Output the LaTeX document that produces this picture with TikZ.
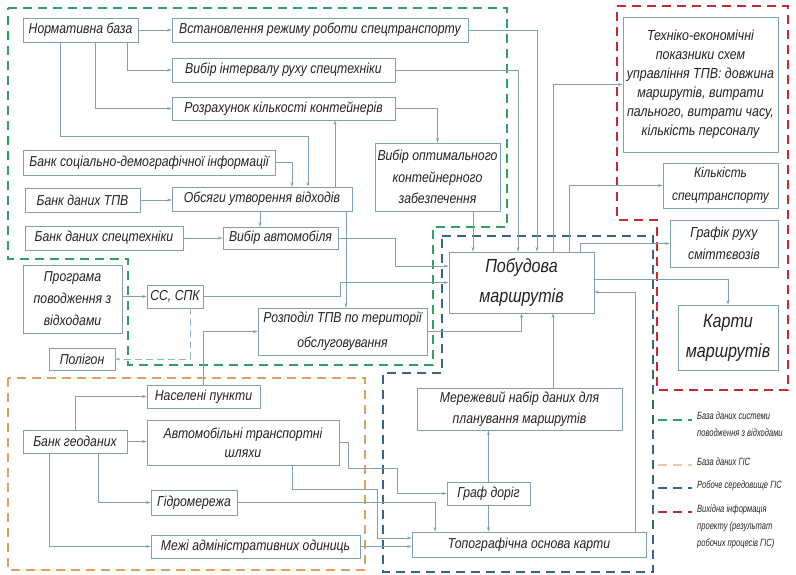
\documentclass[tikz,border=0pt]{standalone}
\usepackage{fontspec}
\setmainfont{Liberation Sans}[FakeStretch=0.85]
\newfontfamily\legfont{Liberation Sans}[FakeStretch=0.72]
\usepackage{tikz}
\usetikzlibrary{arrows.meta}

\definecolor{lineclr}{RGB}{125,160,180}
\definecolor{txtclr}{RGB}{35,35,35}
\definecolor{grn}{RGB}{50,160,100}
\definecolor{orng}{RGB}{225,160,95}
\definecolor{orngleg}{RGB}{235,200,165}
\definecolor{blu}{RGB}{55,100,140}
\definecolor{rd}{RGB}{200,40,50}

\begin{document}
\begin{tikzpicture}[x=1pt, y=-1pt, >={Stealth[length=4.5pt,width=3pt]},
        blok/.style={draw=lineclr, line width=0.7pt, text=txtclr, inner sep=1pt, align=center,
            font=\itshape\fontsize{14.4}{20}\selectfont},
        big/.style={font=\itshape\fontsize{19}{30}\selectfont},
        zv/.style={draw=lineclr, line width=0.6pt, ->},
        zona/.style={line width=1.6pt, dash pattern=on 9pt off 6pt},
        legtxt/.style={text=txtclr, align=left, inner sep=0pt, font=\legfont\itshape\fontsize{10.5}{17}\selectfont}]
        \useasboundingbox (0,0) rectangle (796,574);

        \draw[zona, grn] (8,8) -- (507,8) -- (507,227) -- (433,227) -- (433,365) -- (128,365) -- (128,259) -- (8,259) -- cycle;
        \draw[zona, orng] (8,378) rectangle (365,570);
        \draw[zona, blu] (442,236) -- (653,236) -- (653,572) -- (383,572) -- (383,373) -- (442,373) -- cycle;
        \draw[zona, rd] (617,6) -- (788,6) -- (788,390) -- (657,390) -- (657,220) -- (617,220) -- cycle;

        \node[blok, minimum width=115, minimum height=24] (norm) at (80.5,30) {Нормативна база};
        \node[blok, minimum width=296, minimum height=24] (vstan) at (320,30) {Встановлення режиму роботи спецтранспорту};
        \node[blok, minimum width=223, minimum height=24] (interval) at (283.5,70) {Вибір інтервалу руху спецтехніки};
        \node[blok, minimum width=223, minimum height=23] (rozrah) at (283.5,108.5) {Розрахунок кількості контейнерів};
        \node[blok, minimum width=252, minimum height=25] (socdem) at (149,162.5) {Банк соціально-демографічної інформації};
        \node[blok, minimum width=115, minimum height=24] (tpv) at (82.5,200) {Банк даних ТПВ};
        \node[blok, minimum width=180, minimum height=24] (obsyagy) at (262,199) {Обсяги утворення відходів};
        \node[blok, minimum width=158, minimum height=24] (spectech) at (104,238) {Банк даних спецтехніки};
        \node[blok, minimum width=115, minimum height=22] (avto) at (280.5,238) {Вибір автомобіля};
        \node[blok, minimum width=125, minimum height=68, font=\itshape\fontsize{14.4}{21.5}\selectfont] (kont) at (437.5,177) {Вибір оптимального\\контейнерного\\забезпечення};
        \node[blok, minimum width=99, minimum height=68, font=\itshape\fontsize{14.4}{22}\selectfont] (prog) at (72.5,299) {Програма\\поводження з\\відходами};
        \node[blok, minimum width=56, minimum height=23] (ss) at (175,296.5) {СС, СПК};
        \node[blok, minimum width=66, minimum height=22] (poligon) at (82,359) {Полігон};
        \node[blok, minimum width=169, minimum height=47, font=\itshape\fontsize{14.4}{25}\selectfont] (rozpodil) at (342.5,331.5) {Розподіл ТПВ по території\\обслуговування};
        \node[blok, big, minimum width=145, minimum height=61] (pobud) at (521.5,282.5) {Побудова\\маршрутів};

        \node[blok, minimum width=155, minimum height=135, font=\itshape\fontsize{14.6}{19}\selectfont] (teo) at (700.5,84.5) {Техніко-економічні\\показники схем\\управління ТПВ: довжина\\маршрутів, витрати\\пального, витрати часу,\\кількість персоналу};
        \node[blok, minimum width=115, minimum height=45, font=\itshape\fontsize{14}{23}\selectfont] (kilk) at (720.5,185.5) {Кількість\\спецтранспорту};
        \node[blok, minimum width=108, minimum height=47, font=\itshape\fontsize{14.5}{22}\selectfont] (grafik) at (724,243.5) {Графік руху\\сміттєвозів};
        \node[blok, big, minimum width=100, minimum height=65] (karty) at (728,337.5) {Карти\\маршрутів};

        \node[blok, minimum width=205, minimum height=42, font=\itshape\fontsize{14.4}{21}\selectfont] (merezh) at (519.5,409) {Мережевий набір даних для\\планування маршрутів};
        \node[blok, minimum width=83, minimum height=23] (graf) at (488.5,493.5) {Граф доріг};
        \node[blok, minimum width=234, minimum height=25] (topo) at (529,544.5) {Топографічна основа карти};

        \node[blok, minimum width=113, minimum height=23] (naseleni) at (203.5,396.5) {Населені пункти};
        \node[blok, minimum width=192, minimum height=45, font=\itshape\fontsize{14.4}{19}\selectfont] (avtoshl) at (243,442.5) {Автомобільні транспортні\\шляхи};
        \node[blok, minimum width=104, minimum height=23] (geo) at (75,441.5) {Банк геоданих};
        \node[blok, minimum width=86, minimum height=25] (gidro) at (194,502.5) {Гідромережа};
        \node[blok, minimum width=209, minimum height=23] (mezhi) at (255.5,546.5) {Межі адміністративних одиниць};

        \draw[zv] (norm.east) -- (vstan.west);
        \draw[zv] ([xshift=46.5]norm.south) |- (interval.west);
        \draw[zv] ([xshift=14.5]norm.south) |- (rozrah.west);
        \draw[zv] ([xshift=-20.5]norm.south) -- ++(0,94) -| ([xshift=46]obsyagy.north);
        \draw[zv] (socdem.east) -| ([xshift=30]obsyagy.north);
        \draw[zv] ([xshift=73]obsyagy.north) -- ([xshift=73]obsyagy.north |- rozrah.south);
        \draw[zv] (rozrah.east) -| (kont.north);
        \draw[zv] (tpv.east) -- (tpv.east -| obsyagy.west);
        \draw[zv] ([xshift=-2]obsyagy.south) -- ([xshift=-2]obsyagy.south |- avto.north);
        \draw[zv] (spectech.east) -- (avto.west);
        \draw[zv] ([xshift=84]obsyagy.south) -- ([xshift=84]obsyagy.south |- rozpodil.north);
        \draw[zv] (avto.east) -- ++(57,0) |- ([yshift=16.5]pobud.west);
        \draw[zv] (prog.east |- ss.west) -- (ss.west);
        \draw[zv] (ss.east) -- ++(137,0) |- (pobud.west);
        \draw[zv, dash pattern=on 7pt off 4pt, draw=lineclr!80] ([xshift=15]ss.south) |- (poligon.east);
        \draw[zv] (naseleni.north) |- (rozpodil.west);
        \draw[zv] (rozpodil.east) -| (pobud.south);
        \draw[zv] ([xshift=35.5]kont.south) -- ([xshift=35.5]kont.south |- pobud.north);
        \draw[zv] (vstan.east) -| ([xshift=15.5]pobud.north);
        \draw[zv] (interval.east) -| ([xshift=-3.5]pobud.north);

        \draw[zv] ([xshift=31.5]pobud.north) |- (teo.west);
        \draw[zv] ([xshift=47.5]pobud.north) |- (kilk.west);
        \draw[zv] ([xshift=58.5]pobud.north) |- (grafik.west);
        \draw[zv] ([yshift=3.5]pobud.east) -| (karty.north);
        \draw[zv] ([xshift=106]topo.north) |- ([yshift=-9.5]pobud.east);
        \draw[zv] ([xshift=33.5]merezh.north) -- ([xshift=33.5]merezh.north |- pobud.south);
        \draw[zv] (graf.north) -- (graf.north |- merezh.south);
        \draw[zv] (graf.south) -- (graf.south |- topo.north);

        \draw[zv] (avtoshl.east) -- ++(9,0) -- ++(0,25.5) -- ++(49,0) |- (graf.west);
        \draw[zv] ([xshift=49]avtoshl.south) -- ++(0,24) -- ++(85,0) |- ([yshift=6.5]topo.west);
        \draw[zv] (gidro.east) -| ([xshift=-94]topo.north);
        \draw[zv] (mezhi.east) -- (mezhi.east -| topo.west);
        \draw[zv] (geo.north) |- (naseleni.west);
        \draw[zv] (geo.east) -- (geo.east -| avtoshl.west);
        \draw[zv] ([xshift=23]geo.south) |- (gidro.west);
        \draw[zv] ([xshift=-26]geo.south) |- (mezhi.west);

        \node[legtxt, anchor=north west] (leg1) at (697,412) {База даних системи\\поводження з відходами};
        \node[legtxt, anchor=north west] (leg2) at (697,458) {База даних ГІС};
        \node[legtxt, anchor=north west] (leg3) at (697,481) {Робоче середовище ГІС};
        \node[legtxt, anchor=north west] (leg4) at (697,505) {Вихідна інформація\\проекту (результат\\робочих процесів ГІС)};
        \draw[zona, grn, line width=1.4pt] (658,420) -- (692,420);
        \draw[zona, orngleg, line width=1.4pt] (658,465) -- (692,465);
        \draw[zona, blu, line width=1.4pt] (658,488) -- (692,488);
        \draw[zona, rd, line width=1.4pt] (658,512) -- (692,512);
\end{tikzpicture}
\end{document}
